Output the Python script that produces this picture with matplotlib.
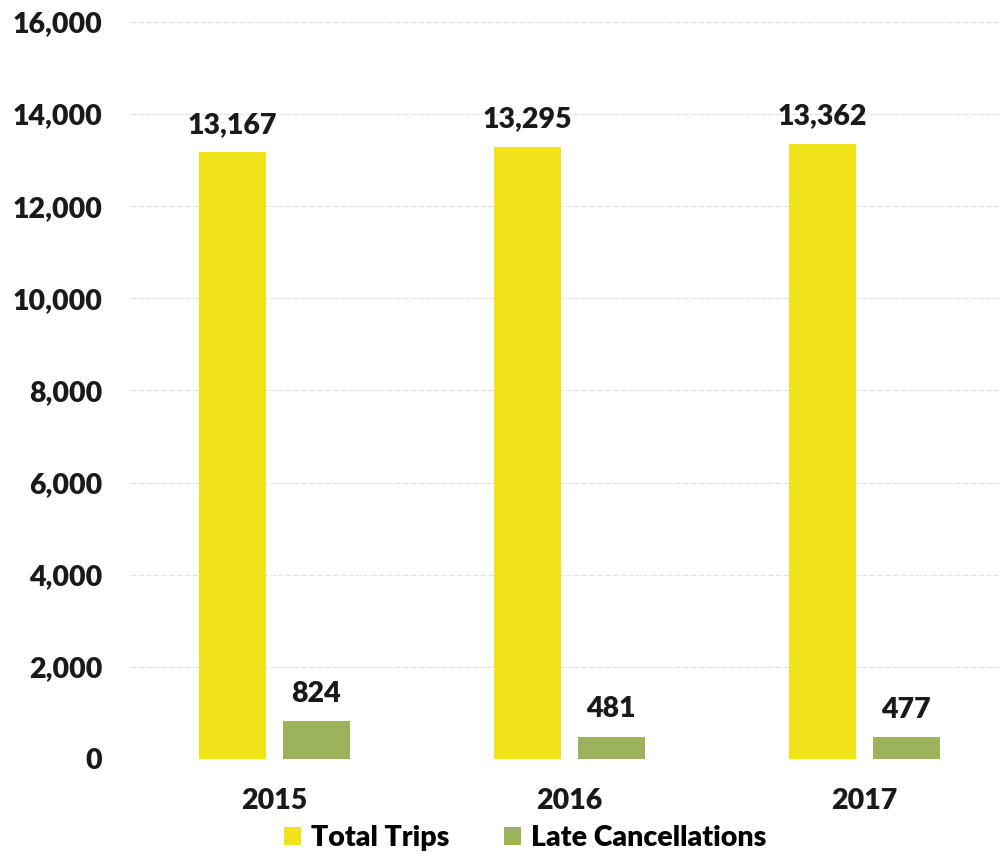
import matplotlib
matplotlib.use("Agg")
import matplotlib.pyplot as plt
from matplotlib.ticker import FuncFormatter
import numpy as np

plt.rcParams["font.family"] = ["Lato", "DejaVu Sans"]
WEIGHT = "heavy"
plt.rcParams["font.weight"] = WEIGHT

YEARS = ["2015", "2016", "2017"]
TOTAL_TRIPS = [13167, 13295, 13362]
LATE_CANCELLATIONS = [824, 481, 477]

YELLOW = "#F0E31B"
GREEN = "#9CB35B"
FS = 20.5

fig = plt.figure(figsize=(10, 8.66), dpi=100)
ax = fig.add_axes([0.13, 0.1236, 0.87, 0.851])

x = np.arange(len(YEARS))
w = 0.227
off = 0.142
b1 = ax.bar(x - off, TOTAL_TRIPS, w, color=YELLOW, label="Total Trips", zorder=2)
b2 = ax.bar(x + off, LATE_CANCELLATIONS, w, color=GREEN, label="Late Cancellations", zorder=2)

for bars, vals in ((b1, TOTAL_TRIPS), (b2, LATE_CANCELLATIONS)):
    for r, v in zip(bars, vals):
        ax.annotate(f"{v:,}", (r.get_x() + r.get_width() / 2, v),
                    xytext=(0, 14), textcoords="offset points",
                    ha="center", va="baseline", fontsize=FS,
                    fontweight=WEIGHT, color="#1a1a1a")

ax.set_ylim(0, 16000)
ax.set_yticks(range(0, 16001, 2000))
ax.yaxis.set_major_formatter(FuncFormatter(lambda v, _: f"{int(v):,}"))
ax.set_xlim(-0.49, 2.46)
ax.set_xticks(x)
ax.set_xticklabels(YEARS)
ax.tick_params(axis="both", length=0, labelsize=FS, colors="#1a1a1a")
ax.tick_params(axis="y", pad=20)
ax.tick_params(axis="x", pad=21)
for lab in ax.get_xticklabels() + ax.get_yticklabels():
    lab.set_fontweight(WEIGHT)

for s in ax.spines.values():
    s.set_visible(False)
ax.grid(axis="y", color="#e6e0e0", lw=0.8, ls=(0, (5, 2)), zorder=0)
ax.set_axisbelow(True)

fig.legend(loc="lower center", bbox_to_anchor=(0.525, -0.012), ncol=2,
           frameon=False, fontsize=FS, handlelength=0.6, handleheight=0.6,
           handletextpad=0.35, columnspacing=1.9,
           prop={"size": FS, "weight": WEIGHT})

fig.savefig("out.png", dpi=100, facecolor="white")
